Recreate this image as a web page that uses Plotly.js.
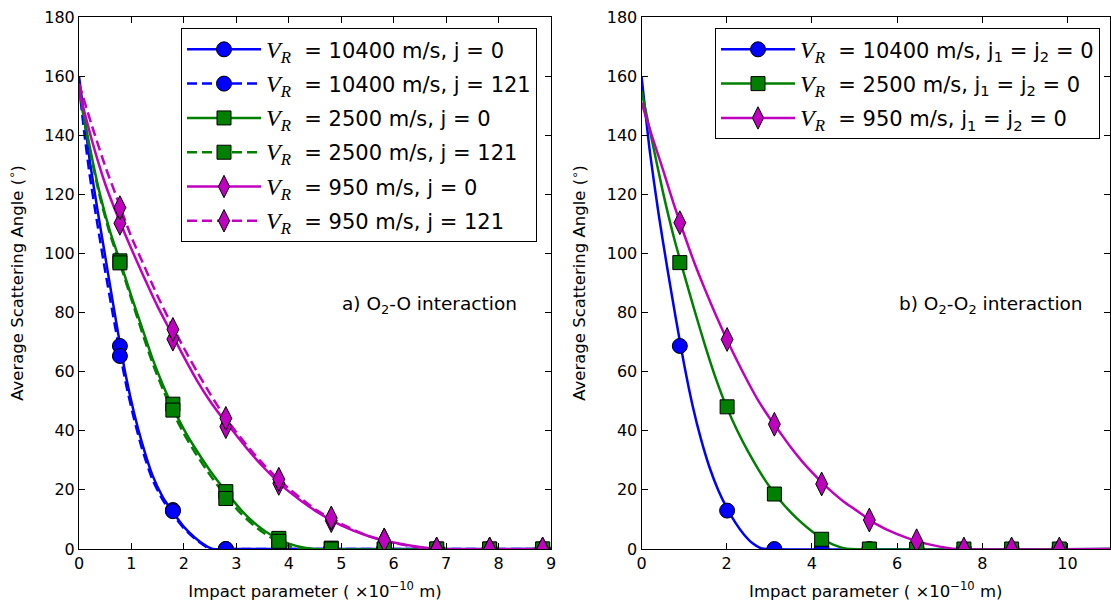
<!DOCTYPE html>
<html>
<head>
<meta charset="utf-8">
<script src="https://cdn.plot.ly/plotly-3.0.1.min.js"></script>
<style>
  html, body { margin: 0; padding: 0; background: #fff; }
  #chart { width: 1111px; height: 602px; }
</style>
</head>
<body>
<div id="chart"></div>
<script>
// ---- O2-O interaction: simulated points (impact parameter in 1e-10 m, angle in degrees)
const bLeft = [0.78, 1.79, 2.80, 3.81, 4.81, 5.82, 6.82, 7.83, 8.84];
const leftV10400j0   = [68.7, 13.2, 0, 0, 0, 0, 0, 0, 0];
const leftV10400j121 = [65.3, 12.8, 0, 0, 0, 0, 0, 0, 0];
const leftV2500j0    = [97.5, 49.0, 19.4, 3.6, 0.3, 0, 0, 0, 0];
const leftV2500j121  = [96.8, 47.0, 17.1, 2.6, 0, 0, 0, 0, 0];
const leftV950j0     = [110.2, 71.0, 41.4, 22.2, 9.6, 3.1, 0, 0, 0];
const leftV950j121   = [115.5, 74.3, 44.2, 23.6, 10.5, 3.0, 0, 0, 0];

// ---- O2-O fitted curves
const fitLV10400j0x   = [0, 0.1, 0.2, 0.35, 0.5, 0.65, 0.78, 0.9, 1.05, 1.2, 1.4, 1.6, 1.8, 2.0, 2.2, 2.4, 2.55, 3.0, 9.0];
const fitLV10400j0y   = [160, 146, 132, 115, 99, 83, 69.5, 58, 46, 36, 25, 17.5, 12.3, 7.5, 4, 1.3, 0, 0, 0];
const fitLV10400j121x = [0, 0.1, 0.2, 0.35, 0.5, 0.65, 0.78, 0.9, 1.05, 1.2, 1.4, 1.6, 1.8, 2.0, 2.2, 2.4, 2.5, 3.0, 9.0];
const fitLV10400j121y = [157, 141, 127, 110, 94, 79, 66.5, 55.5, 44, 34, 23.5, 16.5, 11.5, 7, 3.6, 1, 0, 0, 0];
const fitLV2500j0x    = [0, 0.2, 0.4, 0.6, 0.8, 1.0, 1.2, 1.4, 1.6, 1.8, 2.0, 2.2, 2.5, 2.8, 3.1, 3.4, 3.7, 4.0, 4.3, 4.5, 9.0];
const fitLV2500j0y    = [156, 136.5, 120, 107, 96.5, 85.5, 75, 64.5, 55.5, 47.5, 40.5, 34.5, 26.5, 19.5, 13, 8, 4.3, 1.8, 0.4, 0, 0];
const fitLV2500j121x  = [0, 0.2, 0.4, 0.6, 0.8, 1.0, 1.2, 1.4, 1.6, 1.8, 2.0, 2.2, 2.5, 2.8, 3.1, 3.4, 3.7, 4.0, 4.2, 9.0];
const fitLV2500j121y  = [155, 135.5, 119, 106, 95.5, 84.5, 73.5, 63, 54, 46, 39, 33, 25, 17.8, 11.8, 7, 3.4, 1, 0, 0];
const fitLV950x       = [0, 0.25, 0.5, 0.75, 1.0, 1.25, 1.5, 1.75, 2.0, 2.25, 2.5, 2.75, 3.0, 3.25, 3.5, 3.75, 4.0, 4.5, 5.0, 5.5, 6.0, 6.5, 6.9, 9.0];
const fitLV950j0y     = [155, 138, 123.5, 112, 101.5, 91.5, 82, 73.5, 65, 57, 50, 44, 38.5, 33, 28, 23.5, 19.5, 13, 8, 4.5, 2.2, 0.7, 0, 0];
const fitLV950j121y   = [157.5, 143, 129.5, 117.5, 105.5, 95.5, 85.5, 76.5, 68, 60, 52.5, 45.5, 39.5, 34, 29, 24.5, 20.5, 13.5, 8.5, 4.5, 2, 0.5, 0, 0];

// ---- O2-O2 interaction: simulated points
const bRight = [0.90, 2.01, 3.12, 4.23, 5.35, 6.46, 7.57, 8.69, 9.81];
const rightV10400 = [68.7, 13.0, 0, 0, 0, 0, 0, 0, 0];
const rightV2500  = [96.9, 48.1, 18.6, 3.3, 0, 0, 0, 0, 0];
const rightV950   = [110.4, 70.9, 42.2, 22.0, 9.8, 2.8, 0, 0, 0];

// ---- O2-O2 fitted curves
const fitRV10400x = [0, 0.2, 0.4, 0.6, 0.8, 1.0, 1.2, 1.4, 1.6, 1.8, 2.0, 2.2, 2.4, 2.6, 2.8, 2.95, 11];
const fitRV10400y = [160, 134, 113.5, 95.5, 78.5, 62.5, 48.5, 37, 27.5, 20, 14, 9, 5, 2, 0.3, 0, 0];
const fitRV2500x  = [0, 0.25, 0.5, 0.75, 1.0, 1.25, 1.5, 1.75, 2.0, 2.25, 2.5, 2.75, 3.0, 3.25, 3.5, 3.75, 4.0, 4.25, 4.5, 4.75, 4.9, 11];
const fitRV2500y  = [155, 138, 121, 106, 93, 80.5, 68.5, 57.5, 48, 40, 33, 26.8, 21.2, 16.5, 12.5, 9, 6, 3.4, 1.5, 0.3, 0, 0];
const fitRV950x   = [0, 0.25, 0.5, 0.75, 1.0, 1.25, 1.5, 1.75, 2.0, 2.25, 2.5, 2.75, 3.0, 3.25, 3.5, 3.75, 4.0, 4.25, 4.5, 4.75, 5.0, 5.5, 6.0, 6.5, 7.0, 7.4, 11];
const fitRV950y   = [151, 139.5, 128.5, 117, 106.5, 96.5, 87.5, 79, 71, 63.5, 56.5, 50, 44.5, 39.5, 34.5, 30, 26, 22.3, 19, 16, 13.5, 8.5, 5, 2.5, 0.8, 0, 0];

// ---- legend labels
const VR = '<span style="font-family:\'Liberation Serif\';font-size:24px"><i>V</i><sub><i>R</i></sub></span>\u00a0\u00a0';
const leftNames = [
  VR + '= 10400 m/s, j = 0',
  VR + '= 10400 m/s, j = 121',
  VR + '= 2500 m/s, j = 0',
  VR + '= 2500 m/s, j = 121',
  VR + '= 950 m/s, j = 0',
  VR + '= 950 m/s, j = 121'
];
const rightNames = [
  VR + '= 10400 m/s, j<sub>1</sub> = j<sub>2</sub> = 0',
  VR + '= 2500 m/s, j<sub>1</sub> = j<sub>2</sub> = 0',
  VR + '= 950 m/s, j<sub>1</sub> = j<sub>2</sub> = 0'
];

// ---- styles
const BLUE = '#0000ff', GREEN = '#008000', MAGENTA = '#bf00bf';
const DASH = '10px,5px';
const LW = 2.5;
const SYM = {
  blue:    { symbol: 'circle', size: 15, color: BLUE },
  green:   { symbol: 'square', size: 14, color: GREEN },
  magenta: { symbol: 'diamond-tall', size: 17, color: MAGENTA }
};

function curve(x, y, color, dash, xa, ya) {
  return {
    type: 'scatter', mode: 'lines', x: x, y: y, xaxis: xa, yaxis: ya,
    line: { color: color, width: LW, dash: dash, shape: 'spline', smoothing: 0.6 },
    showlegend: false, hoverinfo: 'skip'
  };
}
function points(x, y, s, xa, ya) {
  return {
    type: 'scatter', mode: 'markers', x: x, y: y, xaxis: xa, yaxis: ya,
    marker: { symbol: s.symbol, size: s.size, color: s.color, line: { color: '#000', width: 1 } },
    showlegend: false
  };
}
function key(name, s, dash, xa, ya, legendId, group) {
  return {
    type: 'scatter', mode: 'lines+markers', x: [null], y: [null], xaxis: xa, yaxis: ya,
    name: name, legend: legendId, legendgroup: group,
    line: { color: s.color, width: LW, dash: dash },
    marker: { symbol: s.symbol, size: s.size, color: s.color, line: { color: '#000', width: 1 } }
  };
}

const traces = [
  // curves, O2-O
  curve(fitLV10400j0x, fitLV10400j0y, BLUE, 'solid', 'x', 'y'),
  curve(fitLV10400j121x, fitLV10400j121y, BLUE, DASH, 'x', 'y'),
  curve(fitLV2500j0x, fitLV2500j0y, GREEN, 'solid', 'x', 'y'),
  curve(fitLV2500j121x, fitLV2500j121y, GREEN, DASH, 'x', 'y'),
  curve(fitLV950x, fitLV950j0y, MAGENTA, 'solid', 'x', 'y'),
  curve(fitLV950x, fitLV950j121y, MAGENTA, DASH, 'x', 'y'),
  // curves, O2-O2
  curve(fitRV10400x, fitRV10400y, BLUE, 'solid', 'x2', 'y2'),
  curve(fitRV2500x, fitRV2500y, GREEN, 'solid', 'x2', 'y2'),
  curve(fitRV950x, fitRV950y, MAGENTA, 'solid', 'x2', 'y2'),
  // markers, O2-O
  points(bLeft, leftV10400j0, SYM.blue, 'x', 'y'),
  points(bLeft, leftV10400j121, SYM.blue, 'x', 'y'),
  points(bLeft, leftV2500j0, SYM.green, 'x', 'y'),
  points(bLeft, leftV2500j121, SYM.green, 'x', 'y'),
  points(bLeft, leftV950j0, SYM.magenta, 'x', 'y'),
  points(bLeft, leftV950j121, SYM.magenta, 'x', 'y'),
  // markers, O2-O2
  points(bRight, rightV10400, SYM.blue, 'x2', 'y2'),
  points(bRight, rightV2500, SYM.green, 'x2', 'y2'),
  points(bRight, rightV950, SYM.magenta, 'x2', 'y2'),
  // legend keys
  key(leftNames[0], SYM.blue, 'solid', 'x', 'y', 'legend', 'a1'),
  key(leftNames[1], SYM.blue, DASH, 'x', 'y', 'legend', 'a2'),
  key(leftNames[2], SYM.green, 'solid', 'x', 'y', 'legend', 'a3'),
  key(leftNames[3], SYM.green, DASH, 'x', 'y', 'legend', 'a4'),
  key(leftNames[4], SYM.magenta, 'solid', 'x', 'y', 'legend', 'a5'),
  key(leftNames[5], SYM.magenta, DASH, 'x', 'y', 'legend', 'a6'),
  key(rightNames[0], SYM.blue, 'solid', 'x2', 'y2', 'legend2', 'b1'),
  key(rightNames[1], SYM.green, 'solid', 'x2', 'y2', 'legend2', 'b2'),
  key(rightNames[2], SYM.magenta, 'solid', 'x2', 'y2', 'legend2', 'b3')
];

const FONT = 'DejaVu Sans, sans-serif';
const axisBase = {
  showline: true, linecolor: '#000', linewidth: 1, mirror: 'ticks',
  ticks: 'inside', ticklen: 6, tickwidth: 1, tickcolor: '#000',
  showgrid: false, zeroline: false,
  tickfont: { family: FONT, size: 16, color: '#000' }
};
const xTitle = { text: 'Impact parameter ( ×10<sup>−10</sup> m)', font: { family: FONT, size: 16.5, color: '#000' }, standoff: 13 };
const yTitle = { text: 'Average Scattering Angle (<sup>∘</sup>)', font: { family: FONT, size: 16.5, color: '#000' }, standoff: 16 };

const legendBase = {
  bgcolor: '#fff', bordercolor: '#000', borderwidth: 1,
  font: { family: FONT, size: 21, color: '#000' },
  traceorder: 'grouped', tracegroupgap: 4, itemwidth: 74,
  xanchor: 'right', yanchor: 'top', y: 0.979
};

const layout = {
  width: 1111, height: 602,
  margin: { l: 0, r: 0, t: 17, b: 53 },
  paper_bgcolor: '#fff', plot_bgcolor: '#fff',
  showlegend: true,
  xaxis: Object.assign({}, axisBase, { domain: [79 / 1111, 551 / 1111], range: [0, 9], dtick: 1, anchor: 'y', title: xTitle }),
  yaxis: Object.assign({}, axisBase, { domain: [0, 1], range: [0, 180], dtick: 20, anchor: 'x', title: yTitle }),
  xaxis2: Object.assign({}, axisBase, { domain: [641.5 / 1111, 1110 / 1111], range: [0, 11], dtick: 2, anchor: 'y2', title: xTitle }),
  yaxis2: Object.assign({}, axisBase, { domain: [0, 1], range: [0, 180], dtick: 20, anchor: 'x2', title: yTitle }),
  legend: Object.assign({}, legendBase, { x: 537 / 1111 }),
  legend2: Object.assign({}, legendBase, { x: 1100 / 1111 }),
  annotations: [
    { xref: 'x', yref: 'y', x: 4.97, y: 82.5, xanchor: 'left', yanchor: 'middle', showarrow: false,
      text: 'a) O<sub>2</sub>-O interaction', font: { family: FONT, size: 18.5, color: '#000' } },
    { xref: 'x2', yref: 'y2', x: 6.0, y: 82.5, xanchor: 'left', yanchor: 'middle', showarrow: false,
      text: 'b) O<sub>2</sub>-O<sub>2</sub> interaction', font: { family: FONT, size: 18.5, color: '#000' } }
  ]
};

Plotly.newPlot('chart', traces, layout, { staticPlot: true, displayModeBar: false });
</script>
</body>
</html>
